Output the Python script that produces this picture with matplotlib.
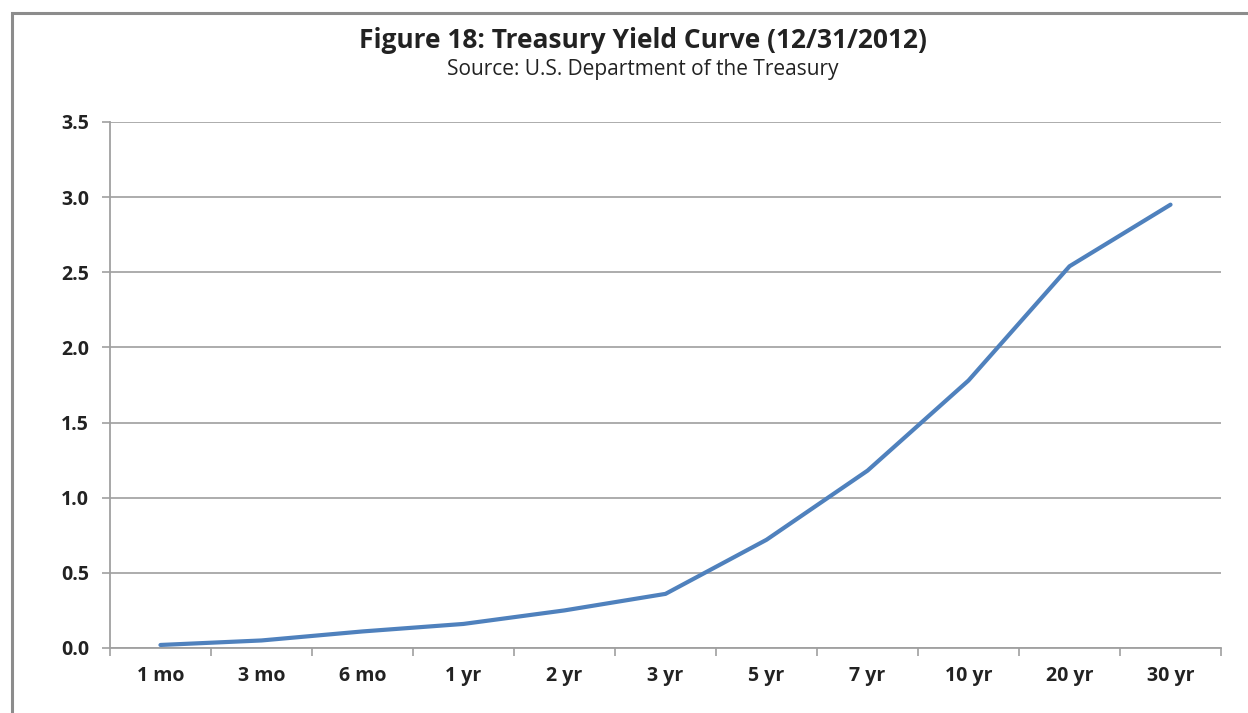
import matplotlib.pyplot as plt
from matplotlib.patches import Rectangle

# data
maturities = ['1 mo', '3 mo', '6 mo', '1 yr', '2 yr', '3 yr', '5 yr', '7 yr', '10 yr', '20 yr', '30 yr']
yields = [0.02, 0.05, 0.11, 0.16, 0.25, 0.36, 0.72, 1.18, 1.78, 2.54, 2.95]
y_ticks = [0.0, 0.5, 1.0, 1.5, 2.0, 2.5, 3.0, 3.5]

plt.rcParams['font.family'] = ['Open Sans', 'DejaVu Sans']

fig = plt.figure(figsize=(12.48, 7.13), dpi=100)
ax = fig.add_axes([0.0881, 0.0912, 0.8903, 0.7377])

# outer chart frame (runs off the right and bottom edges)
fig.patches.append(Rectangle((12 / 1248, -0.05), 1.1, 1 - 13 / 713 + 0.05, transform=fig.transFigure,
                             fill=False, edgecolor='#8c8c8c', linewidth=2.2, zorder=0))

x = list(range(len(maturities)))
ax.plot(x, yields, color='#4f81bd', linewidth=3.0, solid_capstyle='round', zorder=3)

ax.set_xlim(-0.5, len(maturities) - 0.5)
ax.set_ylim(0, 3.5)
ax.set_yticks(y_ticks)
ax.set_yticklabels(['%.1f' % v for v in y_ticks], fontsize=14, fontweight='bold', color='#222222')
ax.set_xticks(x)
ax.set_xticklabels(maturities, fontsize=14, fontweight='bold', color='#222222')
ax.tick_params(axis='x', length=0, pad=13)
ax.set_xticks([i - 0.5 for i in range(len(maturities) + 1)], minor=True)
ax.tick_params(axis='x', which='minor', length=6, width=1.2, color='#a0a0a0', direction='out')
ax.tick_params(axis='y', length=6, width=1.2, color='#a0a0a0', direction='out', pad=9)

ax.grid(axis='y', color='#a6a6a6', linewidth=1.3)
ax.set_axisbelow(True)
for s in ['top', 'right']:
    ax.spines[s].set_visible(False)
for s in ['left', 'bottom']:
    ax.spines[s].set_color('#a0a0a0')
    ax.spines[s].set_linewidth(1.3)

fig.text(643 / 1248, 1 - 40 / 713, 'Figure 18: Treasury Yield Curve (12/31/2012)', ha='center', va='center',
         fontsize=19, fontweight='bold', color='#222222')
fig.text(643 / 1248, 1 - 70 / 713, 'Source: U.S. Department of the Treasury', ha='center', va='center',
         fontsize=15, color='#222222')

fig.savefig('out.png', dpi=100)
